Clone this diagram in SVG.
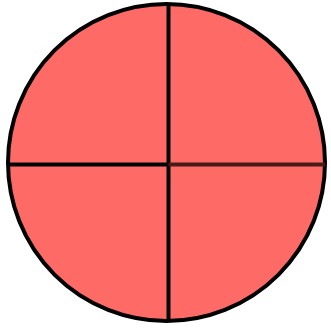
<svg xmlns="http://www.w3.org/2000/svg" width="331" height="333" viewBox="0 0 331 333">
<style>
.disc{fill:#fe6a66;stroke:#000;stroke-width:4}
.div{stroke:#000;stroke-width:4;fill:none}
.div2{stroke:#4a1a1a;stroke-width:4;fill:none}
</style>
<rect width="331" height="333" fill="#fff"/>
<g id="circle">
<circle class="disc" cx="166.5" cy="162.5" r="158.5"/>
</g>
<g id="connectors">
<line class="div" x1="168.5" y1="4" x2="168.5" y2="321"/>
<line class="div" x1="8" y1="164.5" x2="168.5" y2="164.5"/>
<line class="div2" x1="168.5" y1="164.5" x2="325" y2="164.5"/>
</g>
</svg>
